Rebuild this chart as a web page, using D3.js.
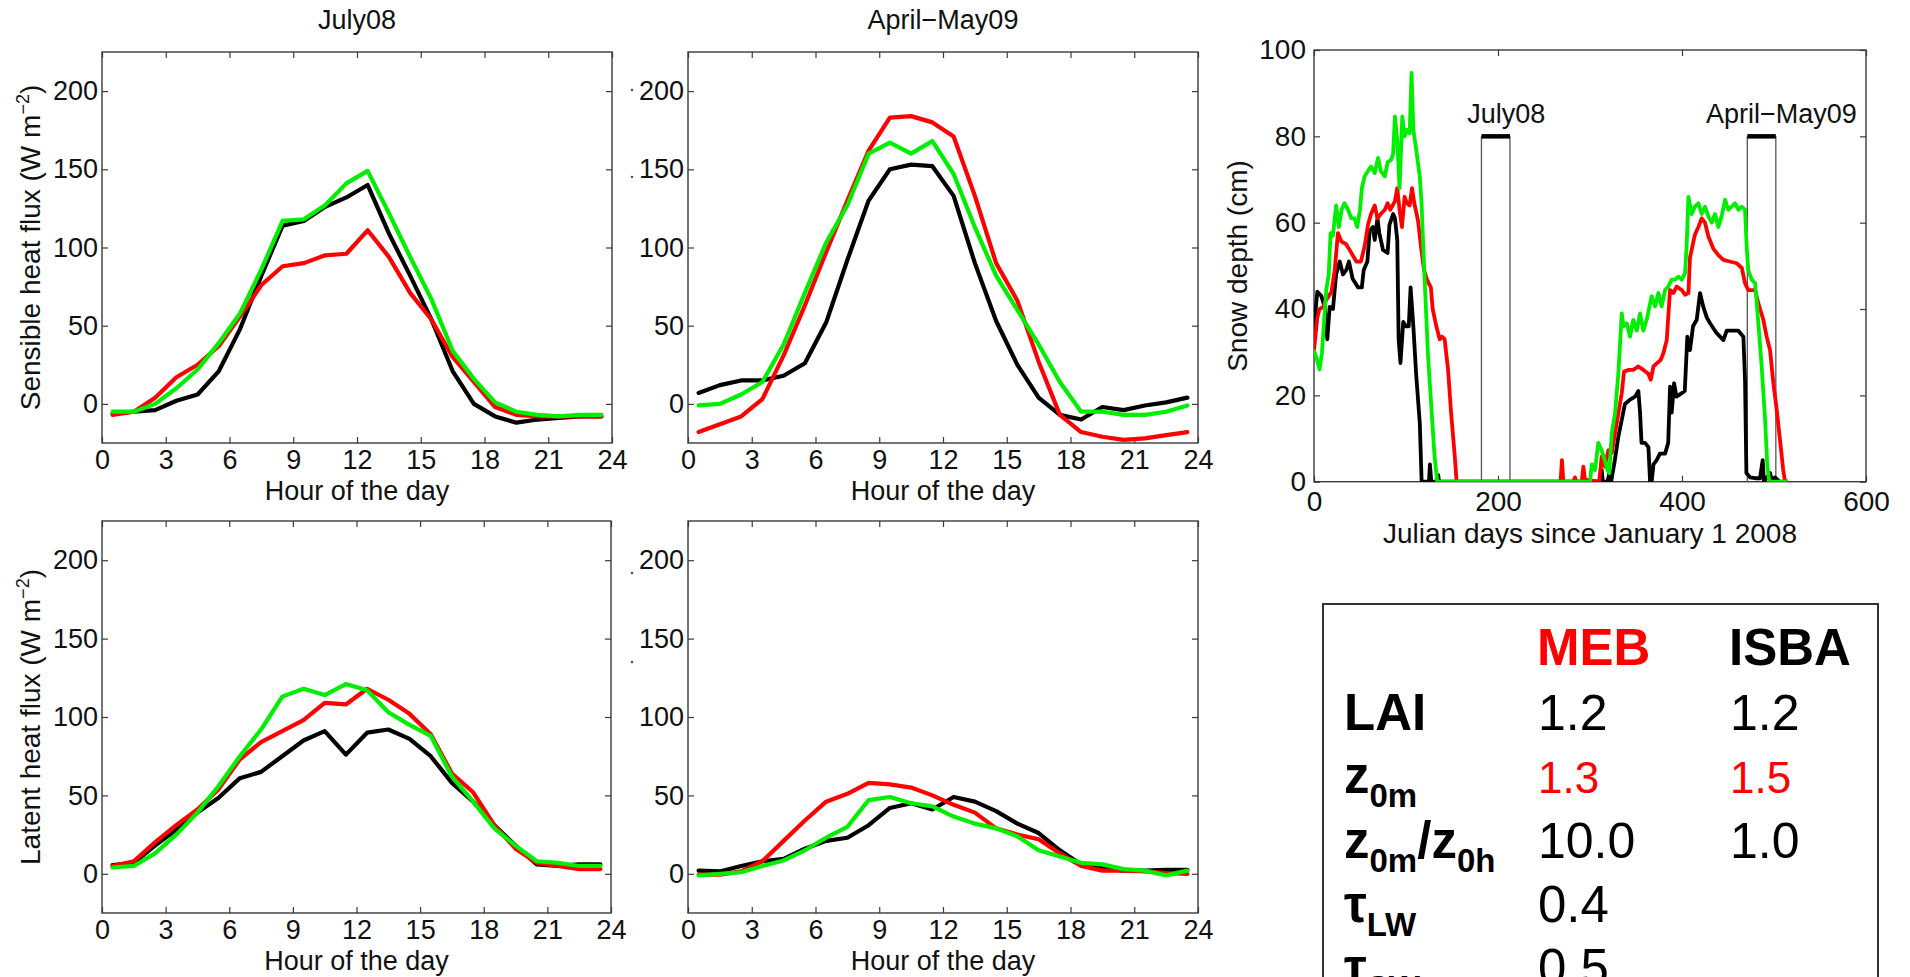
<!DOCTYPE html>
<html><head><meta charset="utf-8">
<script src="https://cdn.jsdelivr.net/npm/d3@7"></script>
<style>
body{margin:0;background:#fff;}
svg{display:block;}
text{font-family:"Liberation Sans",Arial,Helvetica,sans-serif;}
</style>
</head><body>
<svg id="chart" width="1910" height="977"></svg>
<script>
// ---------------- DATA ----------------
const hours = [0.5,1.5,2.5,3.5,4.5,5.5,6.5,7.5,8.5,9.5,10.5,11.5,12.5,13.5,14.5,15.5,16.5,17.5,18.5,19.5,20.5,21.5,22.5,23.5];
const hourTicks = [0,3,6,9,12,15,18,21,24];
const fluxTicks = [0,50,100,150,200];

// Sensible heat flux, July08
const sensJulyObs  = [-6,-5,-4,2,6,21,48,82,114,117,126,132,140,109,82,54,21,0,-8,-12,-10,-9,-8,-8];
const sensJulyMEB  = [-7,-5,4,17,25,37,56,76,88,90,95,96,111,94,71,54,30,14,-2,-7,-8,-8,-8,-8];
const sensJulyISBA = [-5,-5,0,10,22,39,58,86,117,118,127,141,149,122,94,67,34,16,1,-5,-7,-8,-7,-7];
// Sensible heat flux, April-May09
const sensAprObs  = [7,12,15,15,18,26,52,92,130,150,153,152,133,90,53,25,4,-7,-10,-2,-4,-1,1,4];
const sensAprMEB  = [-18,-13,-8,3,31,63,97,130,162,183,184,180,171,133,90,66,27,-7,-18,-21,-23,-22,-20,-18];
const sensAprISBA = [-1,0,6,14,38,71,103,127,160,167,160,168,147,113,82,60,38,14,-5,-5,-7,-7,-5,-1];
// Latent heat flux, July08
const latJulyObs  = [5.5,7,18,28,39,48.5,61,65,75,85,91,76,90,92,86,75,58,46,31,18,6,5,6,6];
const latJulyMEB  = [5,8,20,31,41,54,73,84,91,98,109,108,118,111,102,89,64,52,31,16,7,5,3,3];
const latJulyISBA = [4,5,13,25,39,56,75,92,113,118,114,121,117,103,95,88,62,46,29,18,8,7,5,5];
// Latent heat flux, April-May09
const latAprObs  = [2,1.5,5,8,9.5,16,21,23,31,42,45,41,49,46,40,32,26,15,6,3.5,2,2,2.5,2.5];
const latAprMEB  = [-0.5,-0.5,1.5,8,21,34,46,51,58,57,55,50,44,39,29,25,22,13,5,2,2,1.5,0.5,0];
const latAprISBA = [-1,0,1,5,8.5,15,23,30,47,49,45,43,36.5,32,29,24,15,11,7,6,3,2,-1,2];

// Snow depth (cm) vs Julian days since Jan 1 2008
const snowObsDays = [0,1,3.6,8,11.6,14.5,17,20.6,24,28,31.5,35,38,42,48,52,54,58,60.5,64,66,69,71,75,80,82,86,88,90.5,92,94,97,100,103,105,108,111,115,117,125,126,127.5,134,135,136,310,312.7,314,319,321,323,327,330.8,334.5,338,343.5,349,352.6,354.4,356,359.8,363.5,365.3,367,369,372.5,376,381.6,385,387,388.8,391.4,394,399.7,403,405.8,408.7,412,416,419.6,423,427,430.5,437.7,445,448.6,455.8,461,466.7,468.5,470,474,479.4,484.8,487.7,489,495.7,498,501,506,515];
const snowObs     = [33,38,44,43,40.5,33,40.5,40,48,51,48,49,51,47,45,45,49,51,58,59,56,61,57.6,53.7,53,59.5,62,61,56,33,27.5,37,36,36,45,36,25,13.5,0,0,4,0,0,1.5,0,0,2.7,0,0,2,0,5,10.4,14.3,18,19,19.7,21,16,9,9,8,0,0,4,5,6.5,6.5,9,22,16,22.8,19.7,20.5,21,33.6,30.5,36,37.5,43.7,40.6,38,36.7,34.4,32.8,35,35,35,33.6,23.6,2,1,0.8,0.8,5,0,2,0,1,0,0];
const snowMEBDays = [0,3.6,6,10,13,19,22.5,26,30,35,40.6,46,51,55,58.7,62,66,69,72.5,77,80,83,88,90.5,93,95.6,98.5,101,104,106.5,109,113,116.7,119.6,123,127,129,133,136.6,139,142,145.7,149,153,155,268,269.5,271,282,283.7,285,291,292.8,294.5,310,312.7,316,320,323.6,327.2,330.8,334.5,337,341.7,347,352.6,358,363.4,366,369,372.5,376.8,379.8,383.4,387,390.6,394.2,399.7,403.3,407,408.7,410.5,414,417.8,421.4,425,428.7,434,439.5,445,452,459.5,465,468.5,472,476,479.4,483,488.4,492,495.7,499.3,503,506.5,510,512,515];
const snowMEB     = [30.5,38,40,40.5,42,44,49,57.6,55.6,55,53,51,51,54.5,59.5,62,64,61,62,63,64.5,63,65,68,63,59,66,64.5,64,68,64.5,60.6,53.7,49,46.7,45,40,36,33,33.6,33,26,16,6,0,0,5,0,0,1,0,0,3.5,0.5,0,5.8,3.5,7.3,6.6,11.2,15.8,20.5,25.5,25.9,25.9,26.7,25.9,25,23.6,26.7,27.4,28.2,29.8,32.8,44.4,43.7,45.2,44.4,43.3,43.7,52,53.7,57.2,59,61,60,56.8,54,52.5,51.4,51,50.6,49.5,46,44.4,44.4,44.4,41.3,37.5,33.6,30.5,22.8,16.6,9.7,2.7,0,0];
const snowISBADays = [0,3.6,6,8.7,11,13.4,16,18,20.6,24,27,30,33,37,40.6,44,47,50,52,55,58.7,62,66,69.6,72.5,77,80,84,86,88,90.5,93,96,98.5,101,104,106,108,111,115,117,120,124,127.5,131,134,300,301.9,305.5,309,312.7,316,318.9,321,323.6,327.2,330.8,334.5,336.3,340,343.5,347,350.8,354.4,358,361.6,367,370.7,374.3,377.9,381.6,385,388.8,392.4,396,399.7,403.3,405,407,410.5,414,417.8,421.4,425,428.7,432.3,435.9,439.5,443,446.8,450.4,454,457.6,461.3,464.9,468.5,470.3,472,475.8,479.4,483,486.6,490.3,492.8,495,515];
const snowISBA     = [30.5,28,26,30,37.5,44.5,48,57.6,57,64,59,63,64.5,63,61,61,59,63,68,70.7,72,73,71.5,75,72,70.7,74,74.6,76,84.6,79,68,84.6,80,81.5,80.7,94.7,81.5,77,70.7,64,48,29,17.4,6,0,0,4,2.7,9,7.3,5,2.7,2,11.2,15.8,25,39,36,36.7,33.6,37.5,35,39,35,37.5,43,40.6,43.7,40.6,44.4,45.2,46.8,46.8,47.5,46.8,48.3,54.5,66,62,63.7,64.5,62,63.7,61.4,60,62,59,61.4,65.3,63,63.7,64.5,63,63.7,63,54.5,49,46.8,46,36.7,26.7,14.3,3.5,0,0];

const snowDayTicks = [0,200,400,600];
const snowDepthTicks = [0,20,40,60,80,100];
const periodLabels = ["July08","April-May09"];
const periodStart = [182,471];
const periodEnd = [213,502];
const periodHeight = [80,80];
const periodLabelDay = [209,508];
const periodLabelDepth = [83,83];

// Parameter table
const tableModels = ["MEB","ISBA"];
const tableParams = [[["LAI",""]],[["z","0m"]],[["z","0m"],["/",""],["z","0h"]],[["\u03C4","LW"]],[["\u03C4","SW"]]];
const tableMEB  = ["1.2","1.3","10.0","0.4","0.5"];
const tableISBA = ["1.2","1.5","1.0","",""];
const tableHighlight = [false,true,false,false,false];

// ---------------- DRAWING ----------------
const svg = d3.select("#chart");
const COL = {obs:"#000000", meb:"#ff0000", isba:"#00ee00"};
const AX = "#3a3a3a";
let clipId = 0;

function frame(g, x, y, xt, yt, xfmt, yfmt, xpad, ypad, fs){
  const [x0,x1] = x.range(), [y1,y0] = y.range();
  const bot = g.append("g").attr("transform",`translate(0,${y1})`)
    .call(d3.axisBottom(x).tickValues(xt).tickSize(-6).tickPadding(xpad).tickFormat(xfmt));
  const top = g.append("g").attr("transform",`translate(0,${y0})`)
    .call(d3.axisTop(x).tickValues(xt).tickSize(-6).tickFormat(""));
  const lef = g.append("g").attr("transform",`translate(${x0},0)`)
    .call(d3.axisLeft(y).tickValues(yt).tickSize(-6).tickPadding(ypad).tickFormat(yfmt));
  const rig = g.append("g").attr("transform",`translate(${x1},0)`)
    .call(d3.axisRight(y).tickValues(yt).tickSize(-6).tickFormat(""));
  [bot,top,lef,rig].forEach(a=>{
    a.select(".domain").remove();
    a.selectAll(".tick line").attr("stroke",AX).attr("stroke-width",1.2);
    a.selectAll("text").attr("fill","#111").attr("font-size",fs).attr("font-family","Liberation Sans, Arial, sans-serif");
  });
  g.append("rect").attr("x",x0).attr("y",y0).attr("width",x1-x0).attr("height",y1-y0)
    .attr("fill","none").attr("stroke",AX).attr("stroke-width",1.4);
  const id = "clip"+(clipId++);
  g.append("clipPath").attr("id",id).append("rect").attr("x",x0).attr("y",y0).attr("width",x1-x0).attr("height",y1-y0);
  return id;
}

function diurnal(box, obs, meb, isba, title, ylab){
  const g = svg.append("g");
  const x = d3.scaleLinear().domain([0,24]).range([box.x0,box.x1]);
  const y = d3.scaleLinear().domain([-25,225]).range([box.y1,box.y0]);
  const id = frame(g,x,y,hourTicks,fluxTicks,d3.format("d"),d3.format("d"),7,4,27);
  const line = d3.line().x((d,i)=>x(hours[i])).y(d=>y(d));
  const lg = g.append("g").attr("clip-path",`url(#${id})`);
  [[obs,COL.obs],[meb,COL.meb],[isba,COL.isba]].forEach(([s,c])=>{
    lg.append("path").attr("d",line(s)).attr("fill","none").attr("stroke",c)
      .attr("stroke-width",4.2).attr("stroke-linejoin","round").attr("stroke-linecap","round");
  });
  const cx = (box.x0+box.x1)/2;
  g.append("text").attr("x",cx).attr("y",box.y1+57).attr("text-anchor","middle")
    .attr("font-size",27).attr("fill","#111").text("Hour of the day");
  if(title){
    g.append("text").attr("x",cx).attr("y",29).attr("text-anchor","middle")
      .attr("font-size",27).attr("fill","#111").text(title);
  }
  if(ylab){
    const cy = (box.y0+box.y1)/2;
    const t = g.append("text").attr("transform",`translate(40,${cy}) rotate(-90)`)
      .attr("text-anchor","middle").attr("font-size",28).attr("fill","#111");
    t.append("tspan").text(ylab+" (W m");
    t.append("tspan").attr("dy",-11).attr("font-size",18).text("\u22122");
    t.append("tspan").attr("dy",11).text(")");
  }
}

diurnal({x0:102,x1:612,y0:52,y1:443}, sensJulyObs, sensJulyMEB, sensJulyISBA, "July08", "Sensible heat flux");
diurnal({x0:688,x1:1198,y0:52,y1:443}, sensAprObs, sensAprMEB, sensAprISBA, "April\u2212May09", null);
diurnal({x0:102,x1:611,y0:521,y1:913}, latJulyObs, latJulyMEB, latJulyISBA, null, "Latent heat flux");
diurnal({x0:688,x1:1198,y0:521,y1:913}, latAprObs, latAprMEB, latAprISBA, null, null);

// small residual marks left of the middle column labels
[[632,90],[632,177],[632,573],[632,662]].forEach(p=>{
  svg.append("circle").attr("cx",p[0]).attr("cy",p[1]).attr("r",1.3).attr("fill","#555");
});

// ---------- Snow depth panel ----------
(function(){
  const g = svg.append("g");
  const x = d3.scaleLinear().domain([0,600]).range([1314,1866]);
  const y = d3.scaleLinear().domain([0,100]).range([481.7,50]);
  const id = frame(g,x,y,snowDayTicks,snowDepthTicks,d3.format("d"),d3.format("d"),9,8,28);
  // observation periods
  periodStart.forEach((s,i)=>{
    const e = periodEnd[i], h = periodHeight[i];
    g.append("path").attr("d",`M${x(s)},${y(0)}V${y(h)}M${x(e)},${y(0)}V${y(h)}`)
      .attr("stroke","#555").attr("stroke-width",1.3).attr("fill","none");
    g.append("line").attr("x1",x(s)).attr("x2",x(e)).attr("y1",y(h)).attr("y2",y(h))
      .attr("stroke","#000").attr("stroke-width",4.5);
    g.append("text").attr("x",x(periodLabelDay[i])).attr("y",y(periodLabelDepth[i]))
      .attr("text-anchor","middle").attr("font-size",27).attr("fill","#111")
      .text(periodLabels[i].replace("-","\u2212"));
  });
  const lg = g.append("g").attr("clip-path",`url(#${id})`);
  const mk = (days,vals)=>d3.line().x((d,i)=>x(days[i])).y(d=>y(d))(vals);
  [[snowObsDays,snowObs,COL.obs],[snowMEBDays,snowMEB,COL.meb],[snowISBADays,snowISBA,COL.isba]].forEach(([d,v,c])=>{
    lg.append("path").attr("d",mk(d,v)).attr("fill","none").attr("stroke",c)
      .attr("stroke-width",3.8).attr("stroke-linejoin","round");
  });
  g.append("text").attr("x",1590).attr("y",543).attr("text-anchor","middle")
    .attr("font-size",28).attr("fill","#111").text("Julian days since January 1 2008");
  g.append("text").attr("transform",`translate(1247,266) rotate(-90)`).attr("text-anchor","middle")
    .attr("font-size",28).attr("fill","#111").text("Snow depth (cm)");
})();

// ---------- Parameter table ----------
(function(){
  const g = svg.append("g");
  g.append("rect").attr("x",1323).attr("y",604).attr("width",555).attr("height",420)
    .attr("fill","#fff").attr("stroke","#333").attr("stroke-width",2);
  const colX = [1344,1537,1729];
  const headerY = 665;
  const rowY = [730,793,858,922,985];
  const valSize = [50,44,50,51,51];
  tableModels.forEach((m,i)=>{
    g.append("text").attr("x",colX[i+1]).attr("y",headerY).attr("font-size",51)
      .attr("font-weight","bold").attr("fill",i===0?"#ff0000":"#000").text(m);
  });
  tableParams.forEach((parts,r)=>{
    const t = g.append("text").attr("x",colX[0]).attr("y",rowY[r]).attr("font-weight","bold")
      .attr("font-size",51).attr("fill","#000");
    let shifted = false;
    parts.forEach(([main,sub])=>{
      const a = t.append("tspan").attr("font-size",51).text(main);
      if(shifted){ a.attr("dy",-14); shifted=false; }
      if(sub){
        t.append("tspan").attr("font-size",33).attr("dy",14).text(sub);
        shifted = true;
      }
    });
    [tableMEB[r],tableISBA[r]].forEach((v,c)=>{
      if(!v) return;
      g.append("text").attr("x",colX[c+1]+1).attr("y",rowY[r]).attr("font-size",valSize[r])
        .attr("fill",tableHighlight[r]?"#ff0000":"#000").text(v);
    });
  });
})();
</script>
</body></html>
